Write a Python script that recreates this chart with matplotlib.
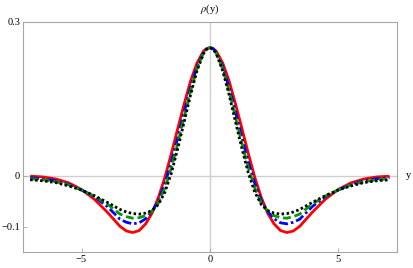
import matplotlib
matplotlib.use("Agg")
import matplotlib.pyplot as plt

# sample positions (y axis variable)
ys = [-7, -6.5, -6, -5.5, -5, -4.5, -4, -3.5, -3.25, -3, -2.75, -2.5, -2.25, -2,
      -1.75, -1.5, -1.25, -1, -0.75, -0.5, -0.25, -0.125, 0,
      0.125, 0.25, 0.5, 0.75, 1, 1.25, 1.5, 1.75, 2, 2.25, 2.5, 2.75, 3, 3.25, 3.5,
      4, 4.5, 5, 5.5, 6, 6.5, 7]

# rho(y), one list per curve
rho_red = [-0.001, -0.0025, -0.0065, -0.014, -0.027, -0.046, -0.071, -0.099, -0.108, -0.111,
           -0.107, -0.094, -0.073, -0.042, -0.003, 0.043, 0.092, 0.140, 0.185, 0.220, 0.243, 0.248, 0.250,
           0.248, 0.243, 0.220, 0.185, 0.140, 0.092, 0.043, -0.003, -0.042, -0.073, -0.094, -0.107,
           -0.111, -0.108, -0.099, -0.071, -0.046, -0.027, -0.014, -0.0065, -0.0025, -0.001]
rho_blue = [-0.004, -0.006, -0.010, -0.017, -0.028, -0.041, -0.060, -0.085, -0.091, -0.094,
            -0.092, -0.084, -0.070, -0.048, -0.015, 0.026, 0.074, 0.124, 0.172, 0.213, 0.241, 0.248, 0.250,
            0.248, 0.241, 0.213, 0.172, 0.124, 0.074, 0.026, -0.015, -0.048, -0.070, -0.084, -0.092,
            -0.094, -0.091, -0.085, -0.060, -0.041, -0.028, -0.017, -0.010, -0.006, -0.004]
rho_green = [-0.006, -0.008, -0.012, -0.018, -0.028, -0.040, -0.055, -0.075, -0.080, -0.083,
             -0.082, -0.078, -0.069, -0.053, -0.024, 0.015, 0.063, 0.114, 0.165, 0.209, 0.239, 0.247, 0.250,
             0.247, 0.239, 0.209, 0.165, 0.114, 0.063, 0.015, -0.024, -0.053, -0.069, -0.078, -0.082,
             -0.083, -0.080, -0.075, -0.055, -0.040, -0.028, -0.018, -0.012, -0.008, -0.006]
rho_black = [-0.008, -0.010, -0.0135, -0.020, -0.028, -0.039, -0.052, -0.066, -0.071, -0.074,
             -0.075, -0.073, -0.068, -0.056, -0.032, 0.005, 0.053, 0.105, 0.158, 0.205, 0.238, 0.247, 0.250,
             0.247, 0.238, 0.205, 0.158, 0.105, 0.053, 0.005, -0.032, -0.056, -0.068, -0.073, -0.075,
             -0.074, -0.071, -0.066, -0.052, -0.039, -0.028, -0.020, -0.0135, -0.010, -0.008]

xticks = [-5, 0, 5]
yticks = [-0.1, 0, 0.3]
ytick_labels = ["\u22120.1", "0", "0.3"]
xtick_labels = ["\u22125", "0", "5"]

plt.rcParams['font.family'] = ['Liberation Serif', 'DejaVu Serif']
plt.rcParams['mathtext.fontset'] = 'stix'

fig = plt.figure(figsize=(4.13, 2.68), dpi=100)
ax = fig.add_axes([0.0557, 0.0597, 0.9048, 0.8583])

frame_col = '#a6a6a6'
axis_col = '#cfcfcf'
ax.axhline(0, color=axis_col, lw=1.0, zorder=1)
ax.axvline(0, color=axis_col, lw=1.0, zorder=1)

lw = 2.0
ax.plot(ys, rho_red, color='red', lw=lw, solid_capstyle='butt', zorder=3)
ax.plot(ys, rho_blue, color='blue', lw=lw, dashes=(3.2, 1.1, 0.9, 1.1), zorder=4)
ax.plot(ys, rho_green, color='#009900', lw=lw, dashes=(2.8, 1.4), zorder=5)
ax.plot(ys, rho_black, color='black', lw=lw, dashes=(0.9, 0.9), zorder=6)

ax.set_xlim(-7.28, 7.28)
ax.set_ylim(-0.149, 0.3)

ax.set_xticks(xticks)
ax.set_xticklabels(xtick_labels)
ax.set_yticks(yticks)
ax.set_yticklabels(ytick_labels)
ax.tick_params(direction='in', length=3, width=0.6, color=frame_col,
               labelsize=7.5, pad=2, top=False, right=False)

for s in ax.spines.values():
    s.set_color(frame_col)
    s.set_linewidth(0.8)

fig.text(0.5073, 0.965, r'$\rho$(y)', ha='center', va='center', fontsize=7.5)
fig.text(0.988, 0.345, 'y', ha='center', va='center', fontsize=7.5)

fig.savefig('out.png', dpi=100)
